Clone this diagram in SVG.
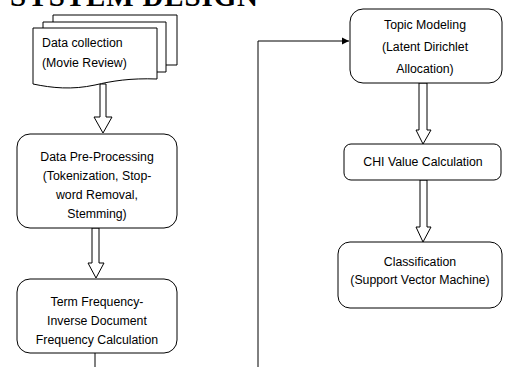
<svg xmlns="http://www.w3.org/2000/svg" width="511" height="367" viewBox="0 0 511 367">
<style>
.bg{fill:#fff}
.box{fill:#fff;stroke:#000;stroke-width:1}
.ln{fill:none;stroke:#000;stroke-width:1}
.blk{fill:#fff;stroke:#000;stroke-width:1;stroke-linejoin:miter}
.t{font-family:"Liberation Sans",Arial,sans-serif;font-size:12.3px;fill:#000;text-anchor:middle}
.title{font-family:"Liberation Serif","Times New Roman",serif;font-weight:bold;font-size:29px;fill:#000}
</style>
<defs>
<marker id="ah" markerWidth="8" markerHeight="8" refX="7" refY="4" orient="auto" markerUnits="userSpaceOnUse">
<path d="M0,0.5 L7,4 L0,7.5 Z" fill="#000"/>
</marker>
</defs>
<rect class="bg" x="0" y="0" width="511" height="367"/>
<text class="title" x="10" y="6" textLength="248" lengthAdjust="spacing">SYSTEM DESIGN</text>

<g id="connectors">
<polygon class="blk" points="100,84 106,84 106,117 112,117 103,133 94,117 100,117"/>
<polygon class="blk" points="92,228 99,228 99,263 104,263 96,278 88,263 92,263"/>
<line class="ln" x1="95" y1="353" x2="95" y2="367"/>
<polyline class="ln" points="258,367 258,41 349,41" marker-end="url(#ah)"/>
<polygon class="blk" points="419,83 427,83 427,130 431,130 423,144 416,130 419,130"/>
<polygon class="blk" points="420,180 427,180 427,227 431,227 423,242 416,227 420,227"/>
</g>

<g id="data-collection">
<polyline class="ln" points="53,22 53,15 177,15 177,65 166,65"/>
<polyline class="box" points="43,28 43,22 166,22 166,72 157,72"/>
<path class="box" d="M33,28 H157 V79 C130,78 112,81 95,85 C72,90 52,88 33,84 Z"/>
<text class="t" x="42" y="47" style="text-anchor:start">Data collection</text>
<text class="t" x="42" y="67" style="text-anchor:start">(Movie Review)</text>
</g>

<g id="pre-processing">
<rect class="box" x="17" y="134" width="160" height="94" rx="13"/>
<text class="t" x="97" y="161">Data Pre-Processing</text>
<text class="t" x="97" y="180">(Tokenization, Stop-</text>
<text class="t" x="97" y="199">word Removal,</text>
<text class="t" x="97" y="218">Stemming)</text>
</g>

<g id="tfidf">
<rect class="box" x="17" y="279" width="160" height="74" rx="13"/>
<text class="t" x="97" y="306">Term Frequency-</text>
<text class="t" x="97" y="325">Inverse Document</text>
<text class="t" x="97" y="344">Frequency Calculation</text>
</g>

<g id="topic-modeling">
<rect class="box" x="350" y="9" width="152" height="74" rx="13"/>
<text class="t" x="425" y="29">Topic Modeling</text>
<text class="t" x="425" y="51">(Latent Dirichlet</text>
<text class="t" x="425" y="73">Allocation)</text>
</g>

<g id="chi">
<rect class="box" x="344" y="144" width="157" height="36" rx="7"/>
<text class="t" x="423" y="166">CHI Value Calculation</text>
</g>

<g id="classification">
<rect class="box" x="338" y="242" width="164" height="66" rx="12"/>
<text class="t" x="420" y="266">Classification</text>
<text class="t" x="420" y="284">(Support Vector Machine)</text>
</g>
</svg>
